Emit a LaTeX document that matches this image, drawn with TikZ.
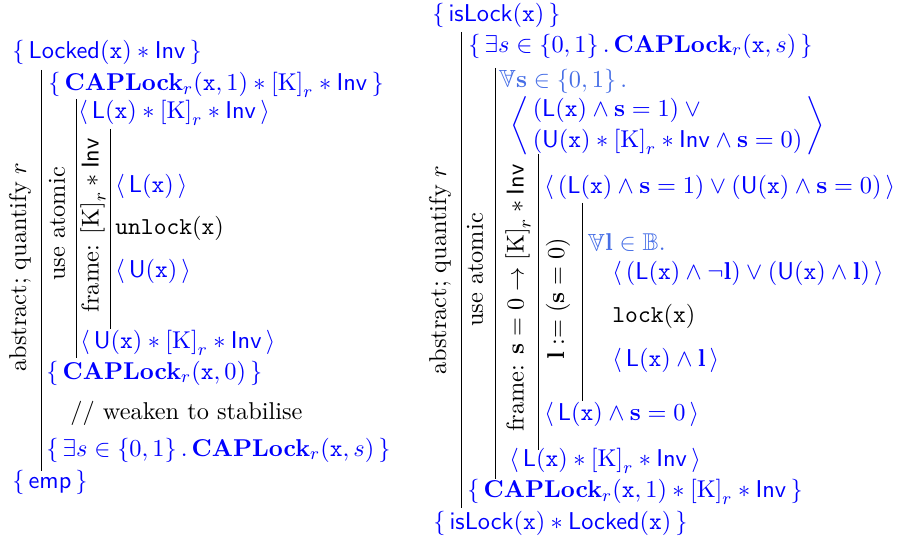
\documentclass[tikz,11pt,border=0pt]{standalone}
\usepackage{amsmath}
\usepackage{amssymb}
\usepackage{graphicx}
\usepackage{xcolor}
\usepackage{tikz}

\definecolor{quantblue}{RGB}{70,110,230}

\newcommand{\CAPLock}{\mathbf{CAPLock}}
\newcommand{\tx}{\mathtt{x}}
\newcommand{\KK}{\left[\mathrm{K}\right]_r}
\newcommand{\Inv}{\mathsf{Inv}}
\newcommand{\pre}[1]{\left\{\,#1\,\right\}}
\newcommand{\atm}[1]{\left\langle\,#1\,\right\rangle}
\newcommand{\pforall}{\rotatebox[origin=c]{180}{$\mathbb{A}$}}

\tikzset{
  assn/.style={anchor=west, inner sep=0pt, text=blue},
  quant/.style={anchor=west, inner sep=0pt, text=quantblue},
  prog/.style={anchor=west, inner sep=0pt},
  tactic/.style={rotate=90, inner sep=0pt},
  bar/.style={line width=0.45pt}
}

\begin{document}
\begin{tikzpicture}[x=0.45pt, y=-0.45pt]
\useasboundingbox (0,0) rectangle (903,545);

% Left outline: unlock
\node[assn] (l-pre) at (12,52) {$\pre{\mathsf{Locked}(\tx) * \Inv}$};
\node[assn] (l-cap1) at (48,85) {$\pre{\CAPLock_r(\tx,1) * \KK * \Inv}$};
\node[assn] (l-ua1) at (78,113) {$\atm{\mathsf{L}(\tx) * \KK * \Inv}$};
\node[assn] (l-a1) at (115,186) {$\atm{\mathsf{L}(\tx)}$};
\node[prog] (l-cmd) at (115,228) {$\mathtt{unlock}(\tx)$};
\node[assn] (l-a2) at (115,271) {$\atm{\mathsf{U}(\tx)}$};
\node[assn] (l-ua2) at (80,343) {$\atm{\mathsf{U}(\tx) * \KK * \Inv}$};
\node[assn] (l-cap0) at (46,373) {$\pre{\CAPLock_r(\tx,0)}$};
\node[prog] (l-weak) at (70,413) {// weaken to stabilise};
\node[assn] (l-ex) at (46,450) {$\pre{\exists s \in \{0,1\} \,.\, \CAPLock_r(\tx,s)}$};
\node[assn] (l-post) at (12,482) {$\pre{\mathsf{emp}}$};

% Left bars and rule labels
\draw[bar] (41,70) -- (41,471);
\draw[bar] (76,99) -- (76,358);
\draw[bar] (110,129) -- (110,329);
\node[tactic] (l-abs) at (20,267) {abstract; quantify $r$};
\node[tactic] (l-use) at (57,224) {use atomic};
\node[tactic] (l-frame) at (93,225) {frame: $\KK * \Inv$};

% Right outline: lock
\node[assn] (r-pre) at (432,15) {$\pre{\mathsf{isLock}(\tx)}$};
\node[assn] (r-ex) at (468,46) {$\pre{\exists s \in \{0,1\} \,.\, \CAPLock_r(\tx,s)}$};
\node[quant] (r-all1) at (498,81) {$\pforall\mathbf{s} \in \{0,1\}\,.$};
\node[assn] (r-big) at (510,126) {$\left\langle\begin{array}{@{\,}l@{\,}}
  (\mathsf{L}(\tx) \land \mathbf{s}=1) \lor{} \\
  (\mathsf{U}(\tx) * \KK * \Inv \land \mathbf{s}=0)
  \end{array}\right\rangle$};
\node[assn] (r-a1) at (544,187) {$\atm{(\mathsf{L}(\tx) \land \mathbf{s}=1) \lor (\mathsf{U}(\tx) \land \mathbf{s}=0)}$};
\node[quant] (r-all2) at (587,243) {$\pforall\mathbf{l} \in \mathbb{B}.$};
\node[assn] (r-a2) at (612,273) {$\atm{(\mathsf{L}(\tx) \land \neg\mathbf{l}) \lor (\mathsf{U}(\tx) \land \mathbf{l})}$};
\node[prog] (r-cmd) at (612,316) {$\mathtt{lock}(\tx)$};
\node[assn] (r-a3) at (612,360) {$\atm{\mathsf{L}(\tx) \land \mathbf{l}}$};
\node[assn] (r-a4) at (544,414) {$\atm{\mathsf{L}(\tx) \land \mathbf{s}=0}$};
\node[assn] (r-ua) at (509,461) {$\atm{\mathsf{L}(\tx) * \KK * \Inv}$};
\node[assn] (r-cap1) at (467,492) {$\pre{\CAPLock_r(\tx,1) * \KK * \Inv}$};
\node[assn] (r-post) at (433,523) {$\pre{\mathsf{isLock}(\tx) * \mathsf{Locked}(\tx)}$};

% Right bars and rule labels
\draw[bar] (461,32) -- (461,508);
\draw[bar] (495,68) -- (495,479);
\draw[bar] (538,154) -- (538,450);
\draw[bar] (582,203) -- (582,401);
\node[tactic] (r-abs) at (440,270) {abstract; quantify $r$};
\node[tactic] (r-use) at (475,270) {use atomic};
\node[tactic] (r-frame) at (518,298) {frame: $\mathbf{s}=0 \rightarrow \KK * \Inv$};
\node[tactic] (r-let) at (558,299) {$\mathbf{l} \mathrel{:=} (\mathbf{s}=0)$};

\end{tikzpicture}
\end{document}
